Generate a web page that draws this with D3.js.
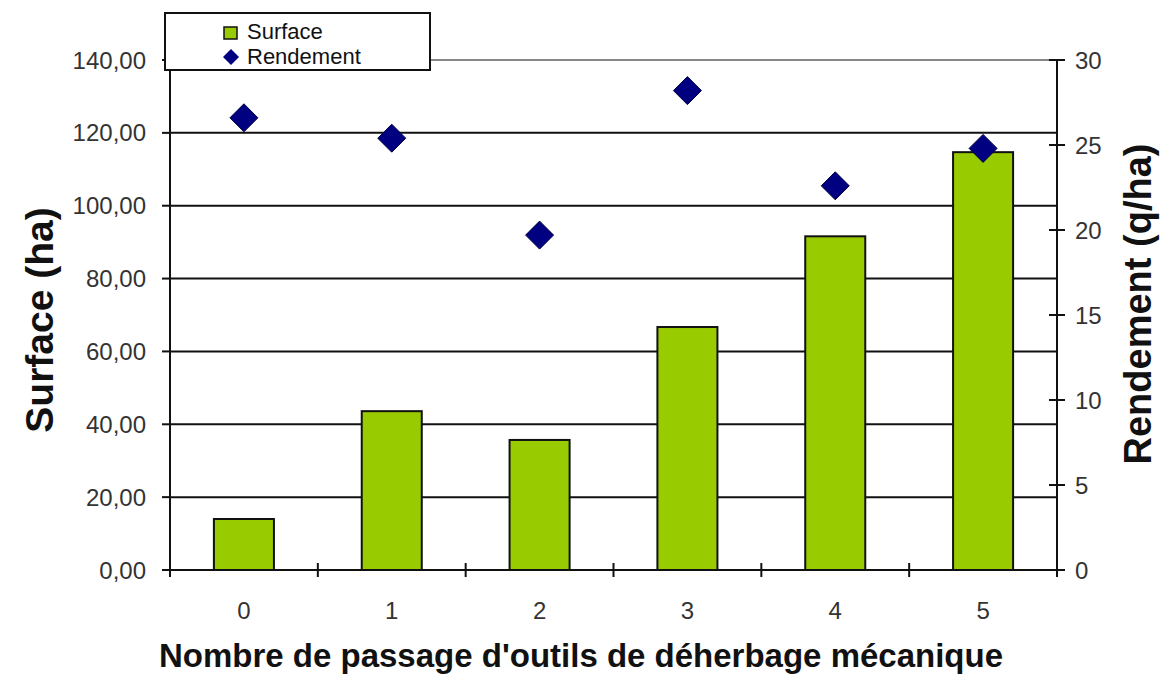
<!DOCTYPE html>
<html><head><meta charset="utf-8">
<script src="https://cdn.jsdelivr.net/npm/d3@7/dist/d3.min.js"></script>
<style>body{margin:0;background:#fff;}svg{display:block;}text{font-family:Arial,"Liberation Sans",sans-serif;}</style>
</head><body>
<svg id="chart" width="1163" height="679"></svg>
<script>
const categories = ["0","1","2","3","4","5"];
const surface = [14.0, 43.6, 35.7, 66.7, 91.6, 114.7];
const rendement = [26.6, 25.4, 19.7, 28.2, 22.6, 24.8];
const leftTicks = [0,20,40,60,80,100,120,140];
const rightTicks = [0,5,10,15,20,25,30];
const seriesNames = ["Surface","Rendement"];

const svg = d3.select("#chart");
const L = 170, R = 1057, T = 60, B = 570;
const pad = 0.594;
const x = d3.scaleBand().domain(categories).range([L,R]).paddingInner(pad).paddingOuter(pad/2);
const yL = d3.scaleLinear().domain([0,140]).range([B,T]);
const yR = d3.scaleLinear().domain([0,30]).range([B,T]);
const step = x.step();

// gridlines
svg.append("g").selectAll("line").data(leftTicks.filter(d=>d>0 && d<140)).join("line")
  .attr("x1",L).attr("x2",R).attr("y1",d=>yL(d)).attr("y2",d=>yL(d))
  .attr("stroke","#111").attr("stroke-width",2);
// top border
svg.append("line").attr("x1",L).attr("x2",R).attr("y1",yL(140)).attr("y2",yL(140))
  .attr("stroke","#888").attr("stroke-width",2);

// bars
svg.append("g").selectAll("rect").data(surface).join("rect")
  .attr("x",(d,i)=>x(categories[i])).attr("width",x.bandwidth())
  .attr("y",d=>yL(d)).attr("height",d=>yL(0)-yL(d))
  .attr("fill","#99CC00").attr("stroke","#111").attr("stroke-width",2);

// left axis
const gl = svg.append("g");
gl.append("line").attr("x1",L).attr("x2",L).attr("y1",T).attr("y2",B+7).attr("stroke","#111").attr("stroke-width",2);
gl.selectAll("line.t").data(leftTicks).join("line").attr("class","t")
  .attr("x1",L-8).attr("x2",L).attr("y1",d=>yL(d)).attr("y2",d=>yL(d)).attr("stroke","#111").attr("stroke-width",2);
gl.selectAll("text").data(leftTicks).join("text")
  .attr("x",146).attr("y",d=>yL(d)).attr("dy","0.36em").attr("text-anchor","end")
  .attr("font-size",24).attr("fill","#333")
  .text(d=>d3.format(".2f")(d).replace(".",","));

// right axis
const gr = svg.append("g");
gr.append("line").attr("x1",R).attr("x2",R).attr("y1",T).attr("y2",B+7).attr("stroke","#111").attr("stroke-width",2);
gr.selectAll("line.t").data(rightTicks).join("line").attr("class","t")
  .attr("x1",R-8).attr("x2",R+8).attr("y1",d=>yR(d)).attr("y2",d=>yR(d)).attr("stroke","#111").attr("stroke-width",2);
gr.selectAll("text").data(rightTicks).join("text")
  .attr("x",1075).attr("y",d=>yR(d)).attr("dy","0.36em").attr("text-anchor","start")
  .attr("font-size",24).attr("fill","#333").text(d=>d);

// x axis
const gx = svg.append("g");
gx.append("line").attr("x1",L-8).attr("x2",R).attr("y1",B).attr("y2",B).attr("stroke","#111").attr("stroke-width",2);
const bounds = categories.map(c=>x(c)+x.bandwidth()/2-step/2).concat([R]);
gx.selectAll("line.t").data(bounds).join("line").attr("class","t")
  .attr("x1",d=>d).attr("x2",d=>d).attr("y1",B-7).attr("y2",B+7).attr("stroke","#111").attr("stroke-width",2);
gx.selectAll("text").data(categories).join("text")
  .attr("x",d=>x(d)+x.bandwidth()/2).attr("y",619).attr("text-anchor","middle")
  .attr("font-size",24).attr("fill","#333").text(d=>d);

// diamonds
const diamond = s => `M0,${-s}L${s},0L0,${s}L${-s},0Z`;
svg.append("g").selectAll("path").data(rendement).join("path")
  .attr("transform",(d,i)=>`translate(${x(categories[i])+x.bandwidth()/2},${yR(d)})`)
  .attr("d",diamond(14)).attr("fill","#000080").attr("stroke","#000040").attr("stroke-width",1);

// axis titles
svg.append("text").attr("x",581).attr("y",667).attr("text-anchor","middle")
  .attr("font-size",33).attr("font-weight","bold").attr("fill","#111")
  .text("Nombre de passage d'outils de déherbage mécanique");
svg.append("text").attr("transform","translate(53,320) rotate(-90)").attr("text-anchor","middle")
  .attr("font-size",39).attr("font-weight","bold").attr("fill","#111").text("Surface (ha)");
svg.append("text").attr("transform","translate(1151,304) rotate(-90)").attr("text-anchor","middle")
  .attr("font-size",38).attr("font-weight","bold").attr("fill","#111").text("Rendement (q/ha)");

// legend
const lg = svg.append("g");
lg.append("rect").attr("x",165).attr("y",13).attr("width",265).attr("height",57)
  .attr("fill","#fff").attr("stroke","#111").attr("stroke-width",2);
lg.append("rect").attr("x",224).attr("y",27).attr("width",13).attr("height",12)
  .attr("fill","#99CC00").attr("stroke","#111").attr("stroke-width",1.5);
lg.append("path").attr("transform","translate(231,57)").attr("d",diamond(8)).attr("fill","#000080");
lg.selectAll("text").data(seriesNames).join("text")
  .attr("x",247).attr("y",(d,i)=>39+i*25).attr("font-size",22).attr("fill","#111").text(d=>d);
</script>
</body></html>
